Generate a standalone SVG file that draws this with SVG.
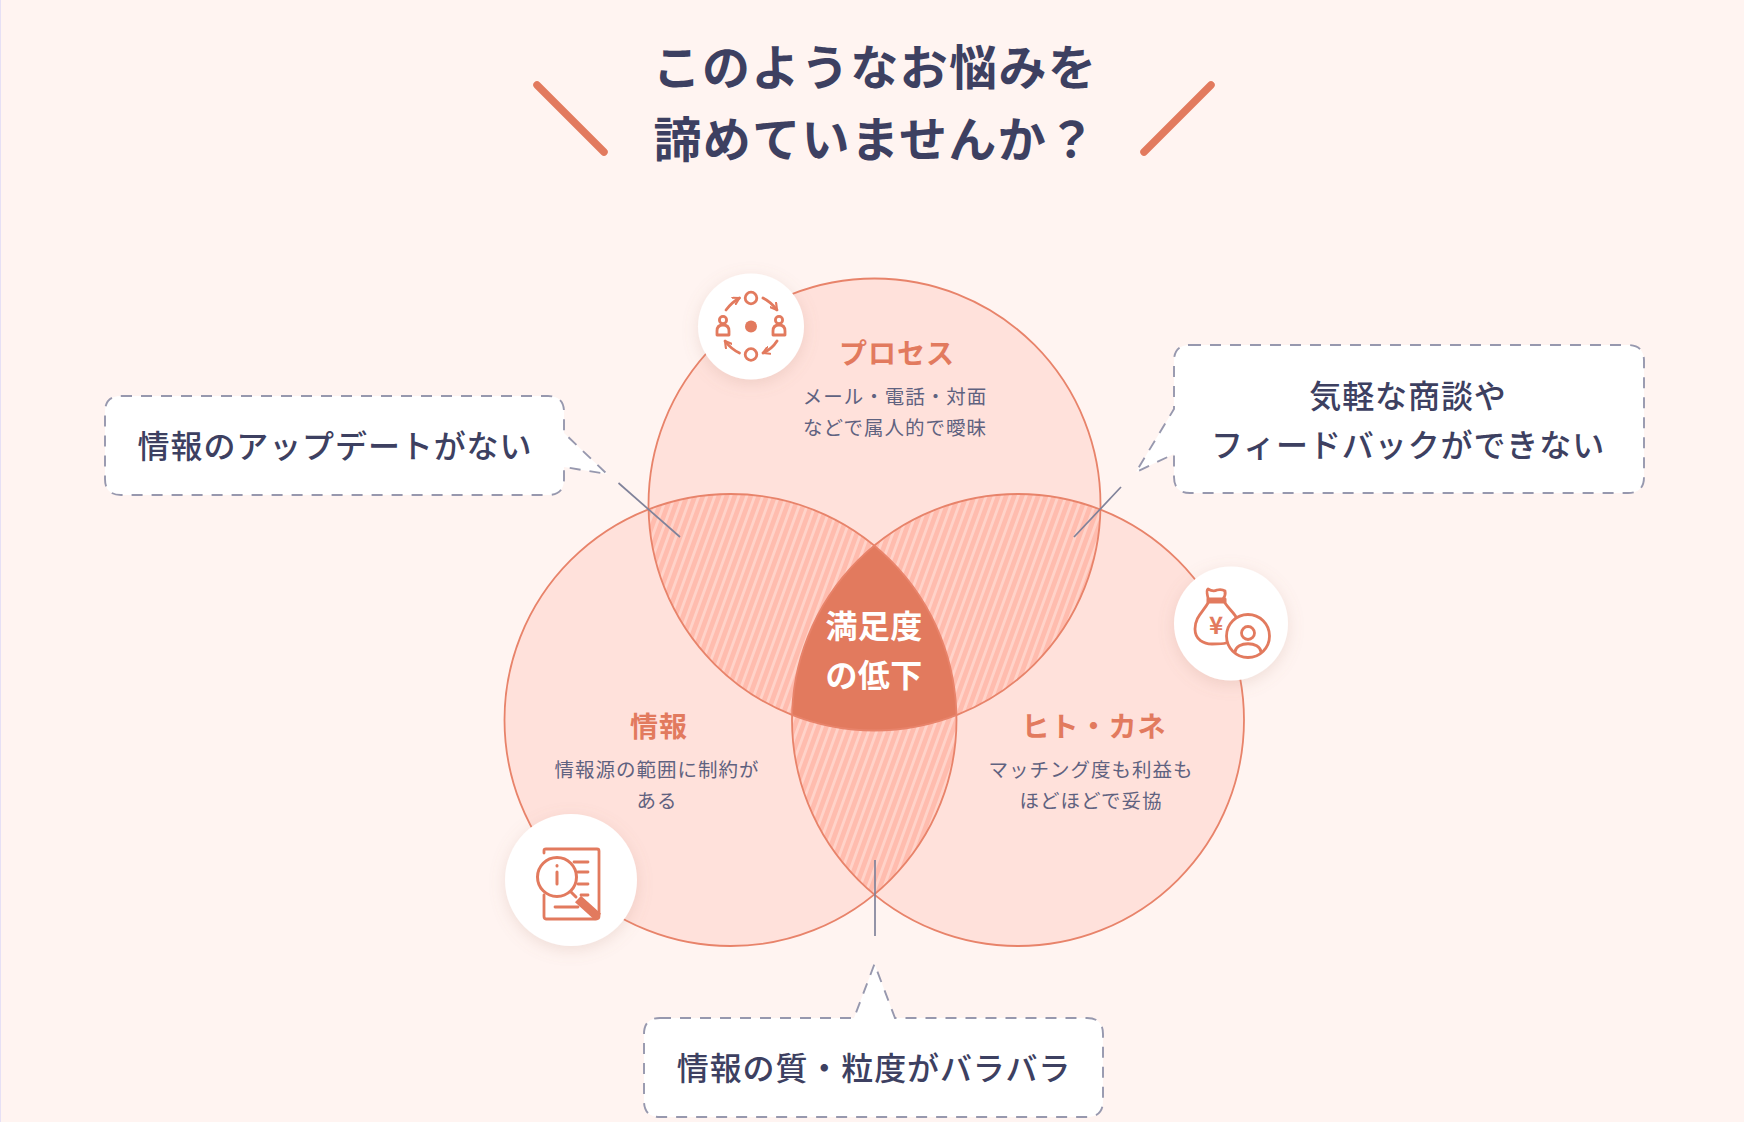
<svg xmlns="http://www.w3.org/2000/svg" width="1744" height="1122" viewBox="0 0 1744 1122">
<style>
text{font-family:"Noto Sans CJK JP","Noto Sans",sans-serif;text-anchor:middle}
.title{font-size:48px;font-weight:700;fill:#3d4061;letter-spacing:1.4px}
.head{font-size:28px;font-weight:700;fill:#e27a5e;letter-spacing:1px}
.sub{font-size:19.5px;font-weight:400;fill:#5f6280;letter-spacing:1px}
.center{font-size:32px;font-weight:700;fill:#fff;letter-spacing:.4px}
.call{font-size:32px;font-weight:500;fill:#3d4061;letter-spacing:.9px}
.bubble{fill:#fff;stroke:#9798ae;stroke-width:1.9;stroke-dasharray:11 9}
.ring{fill:none;stroke:#e8836a;stroke-width:1.8}
.disc{fill:#fff;filter:url(#sh)}
.ic{fill:none;stroke:#e27a5e;stroke-width:2.8;stroke-linecap:round;stroke-linejoin:round}
.leader{stroke:#80829a;stroke-width:1.7;fill:none}
.slash{stroke:#e27a5e;stroke-width:7.5;stroke-linecap:round}
</style>
<defs>
<filter id="sh" x="-30%" y="-30%" width="160%" height="160%"><feDropShadow dx="0" dy="4" stdDeviation="8" flood-color="#b08070" flood-opacity="0.2"/></filter>
<pattern id="hatch" width="7.5" height="10" patternUnits="userSpaceOnUse" patternTransform="rotate(20)"><rect width="7.5" height="10" fill="#ffbcae"/><rect width="2.8" height="10" fill="#ffd3c9"/></pattern>
<clipPath id="cT"><circle cx="874.5" cy="504.5" r="226"/></clipPath>
<clipPath id="cL"><circle cx="730.5" cy="720" r="226"/></clipPath>
<clipPath id="cR"><circle cx="1018" cy="720" r="226"/></clipPath>
<marker id="ah" viewBox="0 0 10 10" refX="8" refY="5" markerWidth="3.2" markerHeight="3.2" orient="auto"><path d="M1 1L8 5L1 9" fill="none" stroke="#e27a5e" stroke-width="2.4" stroke-linecap="round" stroke-linejoin="round"/></marker>
</defs>
<rect width="1744" height="1122" fill="#fff4f1"/>
<rect width="1" height="1122" fill="#e6e0f5"/>
<g id="title">
<line class="slash" x1="537" y1="85" x2="604" y2="152"/>
<line class="slash" x1="1211" y1="85" x2="1144" y2="152"/>
<text class="title" x="875" y="85">このようなお悩みを</text>
<text class="title" x="875" y="157">諦めていませんか？</text>
</g>
<g id="venn">
<circle cx="874.5" cy="504.5" r="226" fill="#ffe1db"/>
<circle cx="730.5" cy="720" r="226" fill="#ffe1db"/>
<circle cx="1018" cy="720" r="226" fill="#ffe1db"/>
<g clip-path="url(#cT)"><circle cx="730.5" cy="720" r="226" fill="url(#hatch)"/><circle cx="1018" cy="720" r="226" fill="url(#hatch)"/></g>
<g clip-path="url(#cL)"><circle cx="1018" cy="720" r="226" fill="url(#hatch)"/></g>
<g clip-path="url(#cT)"><g clip-path="url(#cL)"><circle cx="1018" cy="720" r="226" fill="#e27a5e"/></g></g>
<circle class="ring" cx="874.5" cy="504.5" r="226"/>
<circle class="ring" cx="730.5" cy="720" r="226"/>
<circle class="ring" cx="1018" cy="720" r="226"/>
</g>
<g id="node-center">
<text class="center" x="874" y="638">満足度</text>
<text class="center" x="874" y="687">の低下</text>
</g>
<g id="node-process">
<text class="head" x="897" y="364">プロセス</text>
<text class="sub" x="895" y="404">メール・電話・対面</text>
<text class="sub" x="895" y="435">などで属人的で曖昧</text>
<circle class="disc" cx="751" cy="326.5" r="53"/>
<g class="ic">
<circle cx="751" cy="298" r="5.8"/>
<circle cx="751" cy="354.5" r="5.8"/>
<circle cx="751" cy="326.5" r="6" fill="#e27a5e" stroke="none"/>
<circle cx="723" cy="320" r="3.6"/>
<path d="M717 335v-4q0-6 6-6t6 6v4z"/>
<circle cx="779" cy="320" r="3.6"/>
<path d="M773 335v-4q0-6 6-6t6 6v4z"/>
<path d="M726 310Q732 302 739.5 298" marker-end="url(#ah)"/>
<path d="M763 298Q771 302 777 310" marker-end="url(#ah)"/>
<path d="M777 341Q772 349 763 353" marker-end="url(#ah)"/>
<path d="M739.5 353Q731 349 725 341" marker-end="url(#ah)"/>
</g>
</g>
<g id="node-info">
<text class="head" x="659" y="737">情報</text>
<text class="sub" x="657" y="777">情報源の範囲に制約が</text>
<text class="sub" x="657" y="808">ある</text>
<circle class="disc" cx="571" cy="880" r="66"/>
<g class="ic">
<path d="M544 853V850.5Q544 849 546 849H597Q599 849 599 851V916Q599 919 596 919H546Q544 919 544 916V895"/>
<path d="M574 862H588M578 872H588M578 884H588M581 895H588M555 907H578"/>
<circle cx="557" cy="877" r="19.5" stroke-width="3"/>
<path d="M557 872V884" stroke-width="3"/>
<path d="M557 865.5V866" stroke-width="3"/>
<path d="M571 892L576 897" stroke-width="3"/>
<path d="M578 899L598 917" stroke-width="9" stroke-linecap="butt"/>
</g>
</g>
<g id="node-hitokane">
<text class="head" x="1094" y="737">ヒト・カネ</text>
<text class="sub" x="1091" y="777">マッチング度も利益も</text>
<text class="sub" x="1091" y="808">ほどほどで妥協</text>
<circle class="disc" cx="1231" cy="623.5" r="57"/>
<g class="ic">
<path d="M1208 598Q1206 590 1208 589Q1213 592 1217 590Q1222 589 1225 591Q1226 595 1223 599"/>
<path d="M1208 599H1225V602H1208z" stroke-width="3"/>
<path d="M1208 603C1203 612 1195 617 1195 629C1195 640 1204 644 1212 644C1218 644 1223 644 1226 643"/>
<path d="M1225 603C1229 609 1234 613 1236 617"/>
<circle cx="1248" cy="636" r="21.5"/>
<circle cx="1248" cy="633" r="6.5"/>
<path d="M1235 652C1236 641 1260 641 1261 652"/>
</g>
<text x="1216" y="634" style="font-size:24px;font-weight:700;fill:#e27a5e">¥</text>
</g>
<g id="connectors">
<line class="leader" x1="618.5" y1="483" x2="680" y2="537"/>
<line class="leader" x1="1121" y1="487" x2="1074" y2="537"/>
<line class="leader" x1="875" y1="860" x2="875" y2="936"/>
</g>
<g id="callout-left">
<path class="bubble" d="M121 396H548Q564 396 564 412V433L607 474L564 467V479Q564 495 548 495H121Q105 495 105 479V412Q105 396 121 396Z"/>
<text class="call" x="335" y="458">情報のアップデートがない</text>
</g>
<g id="callout-right">
<path class="bubble" d="M1190 345H1628Q1644 345 1644 361V477Q1644 493 1628 493H1190Q1174 493 1174 477V454L1136 472L1174 409V361Q1174 345 1190 345Z"/>
<text class="call" x="1408" y="408">気軽な商談や</text>
<text class="call" x="1408" y="457">フィードバックができない</text>
</g>
<g id="callout-bottom">
<path class="bubble" d="M660 1018H854L874.5 964L895 1018H1087Q1103 1018 1103 1034V1101Q1103 1117 1087 1117H660Q644 1117 644 1101V1034Q644 1018 660 1018Z"/>
<text class="call" x="874" y="1080">情報の質・粒度がバラバラ</text>
</g>
</svg>
